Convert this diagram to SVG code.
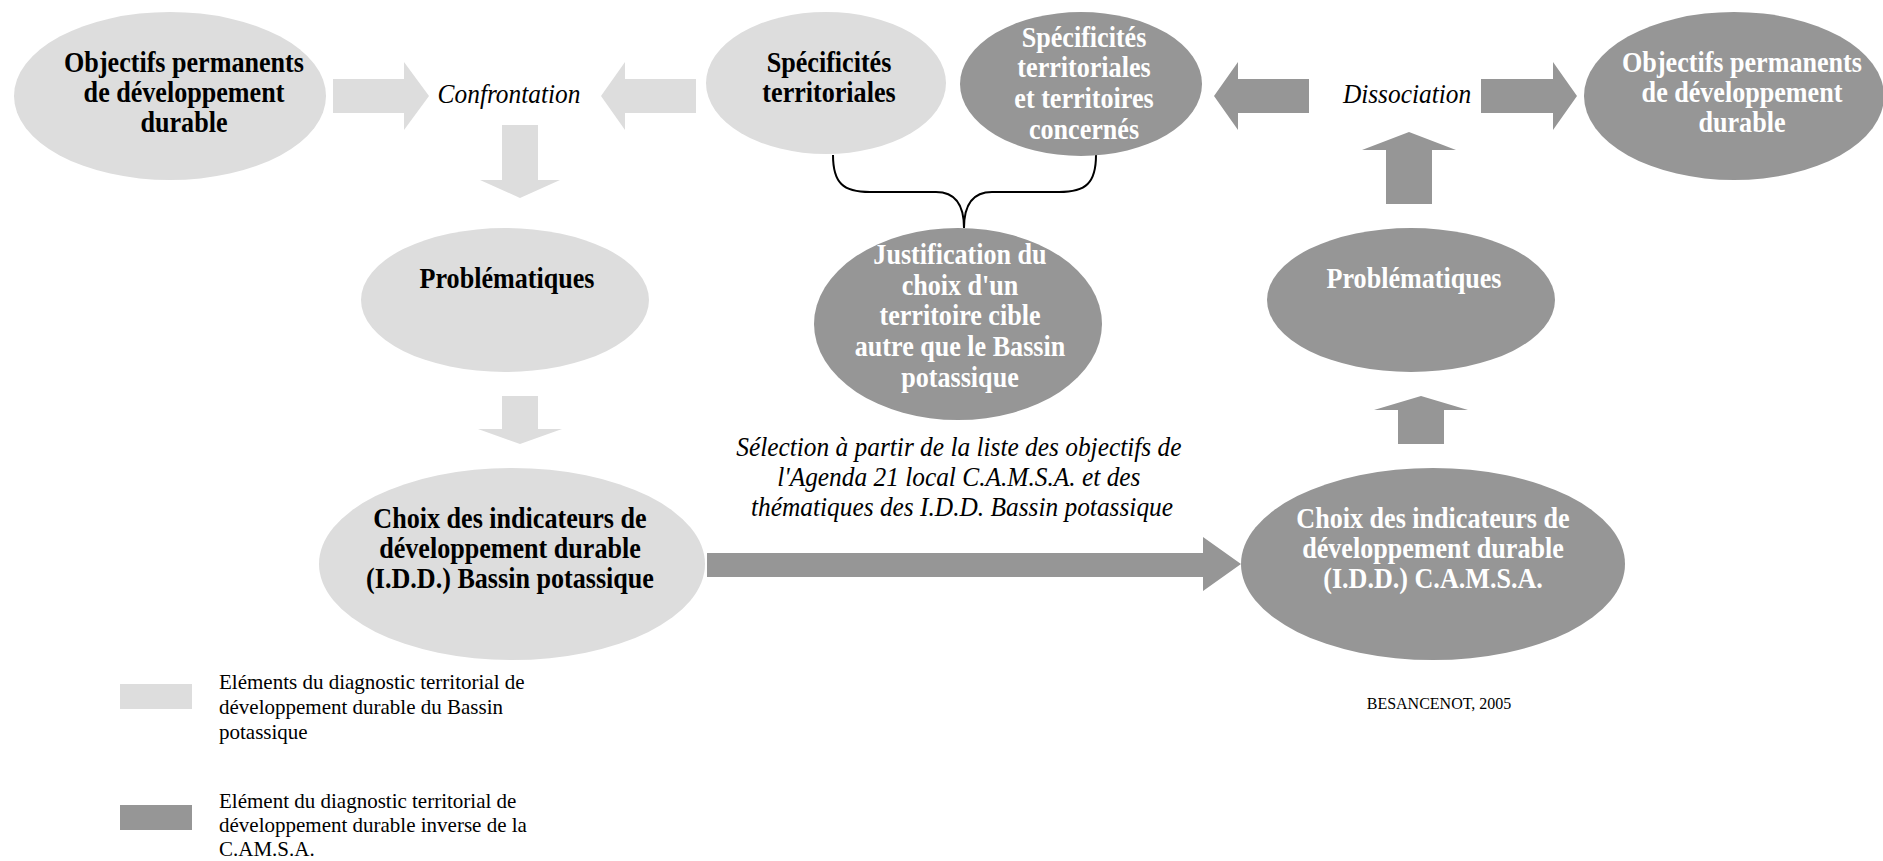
<svg xmlns="http://www.w3.org/2000/svg" width="1883" height="861" viewBox="0 0 1883 861">
<style>
.light{fill:#dddddd}
.dark{fill:#969696}
.t{font-family:"Liberation Serif","Times New Roman",serif;font-size:30px;font-weight:bold;text-anchor:middle}
.tb{fill:#000}
.tw{fill:#fff}
.it{font-family:"Liberation Serif","Times New Roman",serif;font-size:27px;font-style:italic;text-anchor:middle;fill:#000}
.leg{font-family:"Liberation Serif","Times New Roman",serif;font-size:21px;fill:#000}
.src{font-family:"Liberation Serif","Times New Roman",serif;font-size:16px;fill:#000;text-anchor:middle}
.brace{fill:none;stroke:#000;stroke-width:2}
</style>
<rect width="1883" height="861" fill="#fff"/>

<g id="connectors">
  <polygon class="light" points="333,79 404,79 404,62 429,96 404,130 404,113 333,113"/>
  <polygon class="light" points="696,79 625,79 625,62 601,96 625,130 625,113 696,113"/>
  <polygon class="light" points="502,125 538,125 538,180 560,180 520,198 480,180 502,180"/>
  <polygon class="light" points="502,396 538,396 538,429 562,429 520,444 478,429 502,429"/>
  <polygon class="dark" points="1309,79 1238,79 1238,62 1214,96 1238,130 1238,113 1309,113"/>
  <polygon class="dark" points="1481,79 1553,79 1553,62 1577,96 1553,130 1553,113 1481,113"/>
  <polygon class="dark" points="1386,204 1386,150 1362,150 1409,132 1456,150 1432,150 1432,204"/>
  <polygon class="dark" points="1398,444 1398,410 1374,410 1421,396 1468,410 1444,410 1444,444"/>
  <polygon class="dark" points="707,553 1203,553 1203,537 1241,564 1203,591 1203,577 707,577"/>
  <path class="brace" d="M833,155 C833,183 843,192 870,192 L936,192 C956,192 964,205 964,228 M1096,155 C1096,183 1086,192 1059,192 L992,192 C972,192 964,205 964,228"/>
  <text class="it" transform="translate(509 0) scale(0.94 1)" x="0" y="103">Confrontation</text>
  <text class="it" transform="translate(1407 0) scale(0.94 1)" x="0" y="103">Dissociation</text>
  <text class="it" transform="translate(962 0) scale(0.94 1)">
    <tspan x="0" y="456">Sélection à partir de la liste des objectifs de</tspan>
    <tspan x="0" y="486">l'Agenda 21 local C.A.M.S.A. et des</tspan>
    <tspan x="0" y="516">thématiques des I.D.D. Bassin potassique</tspan>
  </text>
</g>

<g id="n-objectifs-bp">
  <ellipse class="light" cx="170" cy="96" rx="156" ry="84"/>
  <text class="t tb" transform="translate(184 0) scale(0.87 1)"><tspan x="0" y="72">Objectifs permanents</tspan><tspan x="0" y="102">de développement</tspan><tspan x="0" y="132">durable</tspan></text>
</g>

<g id="n-specificites-bp">
  <ellipse class="light" cx="826" cy="83" rx="120" ry="71"/>
  <text class="t tb" transform="translate(829 0) scale(0.87 1)"><tspan x="0" y="72">Spécificités</tspan><tspan x="0" y="102">territoriales</tspan></text>
</g>

<g id="n-specificites-camsa">
  <ellipse class="dark" cx="1081" cy="84" rx="121" ry="72"/>
  <text class="t tw" transform="translate(1084 0) scale(0.87 1)"><tspan x="0" y="47">Spécificités</tspan><tspan x="0" y="77">territoriales</tspan><tspan x="0" y="108">et territoires</tspan><tspan x="0" y="139">concernés</tspan></text>
</g>

<g id="n-objectifs-camsa">
  <ellipse class="dark" cx="1734" cy="96" rx="150" ry="84"/>
  <text class="t tw" transform="translate(1742 0) scale(0.87 1)"><tspan x="0" y="72">Objectifs permanents</tspan><tspan x="0" y="102">de développement</tspan><tspan x="0" y="132">durable</tspan></text>
</g>

<g id="n-problematiques-bp">
  <ellipse class="light" cx="505" cy="300" rx="144" ry="72"/>
  <text class="t tb" transform="translate(507 0) scale(0.87 1)" x="0" y="288">Problématiques</text>
</g>

<g id="n-justification">
  <ellipse class="dark" cx="958" cy="324" rx="144" ry="96"/>
  <text class="t tw" transform="translate(960 0) scale(0.87 1)"><tspan x="0" y="264">Justification du</tspan><tspan x="0" y="295">choix d'un</tspan><tspan x="0" y="325">territoire cible</tspan><tspan x="0" y="356">autre que le Bassin</tspan><tspan x="0" y="387">potassique</tspan></text>
</g>

<g id="n-problematiques-camsa">
  <ellipse class="dark" cx="1411" cy="300" rx="144" ry="72"/>
  <text class="t tw" transform="translate(1414 0) scale(0.87 1)" x="0" y="288">Problématiques</text>
</g>

<g id="n-choix-bp">
  <ellipse class="light" cx="512" cy="564" rx="193" ry="96"/>
  <text class="t tb" transform="translate(510 0) scale(0.87 1)"><tspan x="0" y="528">Choix des indicateurs de</tspan><tspan x="0" y="558">développement durable</tspan><tspan x="0" y="588">(I.D.D.) Bassin potassique</tspan></text>
</g>

<g id="n-choix-camsa">
  <ellipse class="dark" cx="1433" cy="564" rx="192" ry="96"/>
  <text class="t tw" transform="translate(1433 0) scale(0.87 1)"><tspan x="0" y="528">Choix des indicateurs de</tspan><tspan x="0" y="558">développement durable</tspan><tspan x="0" y="588">(I.D.D.) C.A.M.S.A.</tspan></text>
</g>

<g id="legend">
  <rect class="light" x="120" y="684" width="72" height="25"/>
  <text class="leg"><tspan x="219" y="689">Eléments du diagnostic territorial de</tspan><tspan x="219" y="714">développement durable du Bassin</tspan><tspan x="219" y="739">potassique</tspan></text>
  <rect class="dark" x="120" y="805" width="72" height="25"/>
  <text class="leg"><tspan x="219" y="808">Elément du diagnostic territorial de</tspan><tspan x="219" y="832">développement durable inverse de la</tspan><tspan x="219" y="856">C.AM.S.A.</tspan></text>
</g>

<g id="source">
  <text class="src" x="1439" y="709">BESANCENOT, 2005</text>
</g>
</svg>
